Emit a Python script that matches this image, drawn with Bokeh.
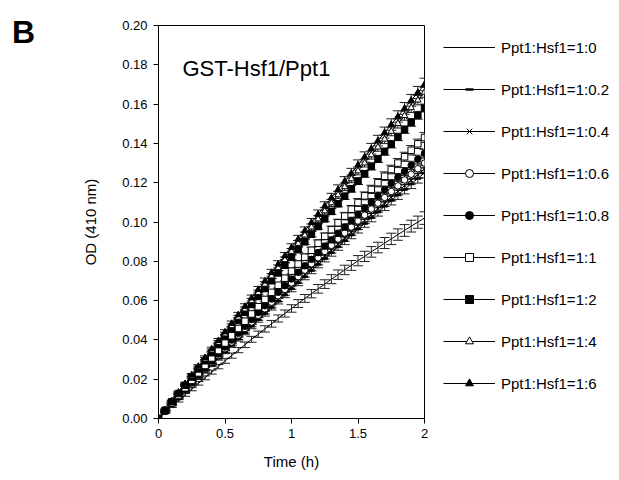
from bokeh.plotting import figure
from bokeh.layouts import row
from bokeh.models import (Range1d, Whisker, TeeHead, ColumnDataSource, Legend,
                          LegendItem, Label, FixedTicker, PrintfTickFormatter, Div)
from bokeh.embed import file_html
from bokeh.resources import INLINE

time_h = [0.00, 0.05, 0.10, 0.15, 0.20, 0.25, 0.30, 0.35, 0.40, 0.45,
          0.50, 0.55, 0.60, 0.65, 0.70, 0.75, 0.80, 0.85, 0.90, 0.95,
          1.00, 1.05, 1.10, 1.15, 1.20, 1.25, 1.30, 1.35, 1.40, 1.45,
          1.50, 1.55, 1.60, 1.65, 1.70, 1.75, 1.80, 1.85, 1.90, 1.95,
          2.00]

od_1_0 = [0, .0030, .0061, .0090, .0120, .0149, .0179, .0207, .0236, .0264,
          .0293, .0320, .0348, .0375, .0403, .0429, .0456, .0482, .0509, .0534,
          .0560, .0585, .0611, .0635, .0660, .0684, .0709, .0732, .0756, .0779,
          .0803, .0825, .0848, .0870, .0893, .0914, .0936, .0957, .0979, .0999,
          .1020]
od_1_02 = [0, .0035, .0069, .0103, .0138, .0172, .0205, .0239, .0272, .0306,
           .0339, .0372, .0404, .0437, .0469, .0502, .0534, .0565, .0597, .0629,
           .0660, .0691, .0722, .0753, .0784, .0814, .0844, .0874, .0904, .0934,
           .0964, .0993, .1022, .1051, .1080, .1109, .1138, .1166, .1194, .1222,
           .1250]
od_1_04 = [0, .0035, .0070, .0105, .0140, .0175, .0208, .0243, .0276, .0311,
           .0344, .0378, .0410, .0444, .0476, .0510, .0542, .0574, .0606, .0639,
           .0670, .0702, .0733, .0765, .0796, .0827, .0857, .0888, .0918, .0949,
           .0979, .1009, .1038, .1068, .1097, .1127, .1156, .1185, .1213, .1242,
           .1270]
od_1_06 = [0, .0036, .0073, .0109, .0144, .0180, .0215, .0251, .0286, .0320,
           .0355, .0389, .0424, .0458, .0491, .0525, .0558, .0592, .0625, .0657,
           .0690, .0722, .0755, .0787, .0818, .0850, .0881, .0913, .0944, .0974,
           .1005, .1035, .1066, .1096, .1125, .1155, .1184, .1214, .1243, .1271,
           .1300]
od_1_08 = [0, .0037, .0074, .0111, .0148, .0184, .0220, .0256, .0292, .0328,
           .0364, .0399, .0434, .0469, .0504, .0539, .0574, .0608, .0642, .0676,
           .0710, .0744, .0777, .0810, .0844, .0877, .0909, .0942, .0974, .1007,
           .1039, .1071, .1102, .1134, .1165, .1197, .1228, .1258, .1289, .1320,
           .1350]
od_1_1 = [0, .0039, .0078, .0117, .0156, .0194, .0232, .0270, .0308, .0346,
          .0384, .0421, .0458, .0495, .0532, .0569, .0606, .0642, .0678, .0714,
          .0750, .0786, .0821, .0856, .0892, .0927, .0961, .0996, .1030, .1065,
          .1099, .1133, .1166, .1200, .1233, .1267, .1300, .1332, .1365, .1398,
          .1430]
od_1_2 = [0, .0042, .0085, .0127, .0169, .0211, .0252, .0294, .0335, .0376,
          .0418, .0458, .0499, .0540, .0580, .0621, .0661, .0701, .0741, .0780,
          .0820, .0859, .0899, .0938, .0977, .1016, .1054, .1093, .1131, .1169,
          .1208, .1245, .1283, .1321, .1358, .1396, .1433, .1470, .1507, .1543,
          .1580]
od_1_4 = [0, .0043, .0087, .0130, .0173, .0216, .0259, .0302, .0345, .0387,
          .0430, .0472, .0515, .0557, .0599, .0641, .0683, .0725, .0767, .0808,
          .0850, .0891, .0933, .0974, .1015, .1056, .1097, .1138, .1179, .1219,
          .1260, .1300, .1341, .1381, .1421, .1461, .1501, .1541, .1581, .1620,
          .1660]
od_1_6 = [0, .0044, .0089, .0133, .0177, .0221, .0265, .0309, .0353, .0396,
          .0440, .0483, .0527, .0570, .0613, .0656, .0699, .0742, .0785, .0827,
          .0870, .0912, .0955, .0997, .1039, .1081, .1123, .1165, .1207, .1248,
          .1290, .1331, .1373, .1414, .1455, .1496, .1537, .1578, .1619, .1659,
          .1700]

sd_a = [0.0000, 0.0004, 0.0005, 0.0006, 0.0007, 0.0008, 0.0009, 0.0010, 0.0010, 0.0011,
        0.0012, 0.0013, 0.0013, 0.0014, 0.0015, 0.0016, 0.0016, 0.0017, 0.0018, 0.0018,
        0.0019, 0.0020, 0.0020, 0.0021, 0.0022, 0.0022, 0.0023, 0.0024, 0.0024, 0.0025,
        0.0026, 0.0026, 0.0027, 0.0027, 0.0028, 0.0029, 0.0029, 0.0030, 0.0030, 0.0031,
        0.0032]
sd_b = [0.0000, 0.0003, 0.0004, 0.0005, 0.0006, 0.0006, 0.0007, 0.0008, 0.0008, 0.0009,
        0.0009, 0.0010, 0.0010, 0.0011, 0.0012, 0.0012, 0.0013, 0.0013, 0.0014, 0.0014,
        0.0015, 0.0015, 0.0016, 0.0016, 0.0017, 0.0017, 0.0018, 0.0018, 0.0019, 0.0019,
        0.0020, 0.0020, 0.0021, 0.0021, 0.0022, 0.0022, 0.0023, 0.0023, 0.0024, 0.0024,
        0.0025]
sd_c = [0.0000, 0.0003, 0.0003, 0.0004, 0.0004, 0.0005, 0.0005, 0.0006, 0.0006, 0.0007,
        0.0007, 0.0008, 0.0008, 0.0009, 0.0009, 0.0010, 0.0010, 0.0011, 0.0011, 0.0012,
        0.0012, 0.0013, 0.0013, 0.0014, 0.0014, 0.0015, 0.0015, 0.0016, 0.0016, 0.0017,
        0.0017, 0.0017, 0.0018, 0.0018, 0.0018, 0.0019, 0.0019, 0.0019, 0.0020, 0.0020,
        0.0020]

series_labels = ["Ppt1:Hsf1=1:0", "Ppt1:Hsf1=1:0.2", "Ppt1:Hsf1=1:0.4",
                 "Ppt1:Hsf1=1:0.6", "Ppt1:Hsf1=1:0.8", "Ppt1:Hsf1=1:1",
                 "Ppt1:Hsf1=1:2", "Ppt1:Hsf1=1:4", "Ppt1:Hsf1=1:6"]
series_values = [od_1_0, od_1_02, od_1_04, od_1_06, od_1_08, od_1_1, od_1_2, od_1_4, od_1_6]
series_sd = [sd_a, sd_b, sd_c, sd_b, sd_c, sd_b, sd_c, sd_b, sd_a]

x_ticks = [0, 0.5, 1, 1.5, 2]
x_tick_labels = ["0", "0.5", "1", "1.5", "2"]
y_ticks = [0.00, 0.02, 0.04, 0.06, 0.08, 0.10, 0.12, 0.14, 0.16, 0.18, 0.20]

FONT = "Liberation Sans"

# marker styles: (marker, size, fill, line_width)
styles = [None,
          ("dash", 6.5, "black", 2.5),
          ("x", 5.5, "black", 1),
          ("circle", 6.5, "white", 1),
          ("circle", 6.5, "black", 1),
          ("square", 6.5, "white", 1),
          ("square", 6.5, "black", 1),
          ("triangle", 6.5, "white", 1),
          ("triangle", 6.5, "black", 1)]

# panel letter
letter = Div(text="B", width=40, height=60, margin=0,
             styles={"font-family": FONT, "font-size": "32px", "font-weight": "bold",
                     "color": "black", "padding-left": "12px", "padding-top": "16px",
                     "box-sizing": "border-box", "margin": "0px",
                     "line-height": "1", "overflow": "visible"})

p = figure(width=574, height=475, frame_width=266, frame_height=393,
           x_range=Range1d(0, 2), y_range=Range1d(0, 0.2),
           output_backend="svg", toolbar_location=None,
           min_border_left=118, min_border_right=190,
           min_border_top=25, min_border_bottom=57)
p.background_fill_color = "white"
p.border_fill_color = "white"
p.outline_line_color = "black"
p.outline_line_width = 1
p.xgrid.visible = False
p.ygrid.visible = False

p.xaxis.ticker = FixedTicker(ticks=x_ticks)
p.xaxis.major_label_overrides = {t: l for t, l in zip(x_ticks, x_tick_labels)}
p.yaxis.ticker = FixedTicker(ticks=y_ticks)
p.yaxis.formatter = PrintfTickFormatter(format="%.2f")
for ax in (p.xaxis, p.yaxis):
    ax.axis_line_color = "black"
    ax.major_tick_line_color = "black"
    ax.major_tick_in = 0
    ax.major_tick_out = 5
    ax.minor_tick_line_color = None
    ax.major_label_text_font = FONT
    ax.major_label_text_font_size = "13px"
    ax.major_label_text_color = "black"
    ax.axis_label_text_font = FONT
    ax.axis_label_text_font_size = "15px"
    ax.axis_label_text_font_style = "normal"
    ax.axis_label_text_color = "black"
p.xaxis.axis_label = "Time (h)"
p.yaxis.axis_label = "OD (410 nm)"
p.xaxis.major_label_standoff = 5
p.yaxis.major_label_standoff = 6
p.xaxis.axis_label_standoff = 12
p.yaxis.axis_label_standoff = 20

items = []
for lab, vals, sd, st in zip(series_labels, series_values, series_sd, styles):
    up = [v + e for v, e in zip(vals, sd)]
    lo = [v - e for v, e in zip(vals, sd)]
    src = ColumnDataSource(dict(x=time_h, y=vals, upper=up, lower=lo))
    ln = p.line("x", "y", source=src, line_color="black", line_width=1)
    w = Whisker(source=src, base="x", upper="upper", lower="lower",
                line_color="#222222", line_width=1,
                upper_head=TeeHead(size=10, line_color="#222222", line_width=1),
                lower_head=TeeHead(size=10, line_color="#222222", line_width=1))
    p.add_layout(w)
    rends = [ln]
    if st is not None:
        mk, sz, fill, lw = st
        sc = p.scatter("x", "y", source=src, marker=mk, size=sz,
                       fill_color=fill, line_color="black", line_width=lw)
        rends.append(sc)
    items.append(LegendItem(label=lab, renderers=rends))

legend = Legend(items=items, location=(19, 25), orientation="vertical",
                glyph_width=52, glyph_height=20, label_height=20,
                spacing=22, padding=0, margin=0, label_standoff=6,
                label_text_font=FONT, label_text_font_size="15px",
                label_text_color="black",
                border_line_alpha=0, background_fill_alpha=0)
p.add_layout(legend, "right")

p.add_layout(Label(x=0.18, y=0.178, text="GST-Hsf1/Ppt1", text_baseline="middle",
                   text_font=FONT, text_font_size="22px", text_color="black"))

layout = row(letter, p, spacing=0)
open("out.html", "w").write(file_html(layout, INLINE))
